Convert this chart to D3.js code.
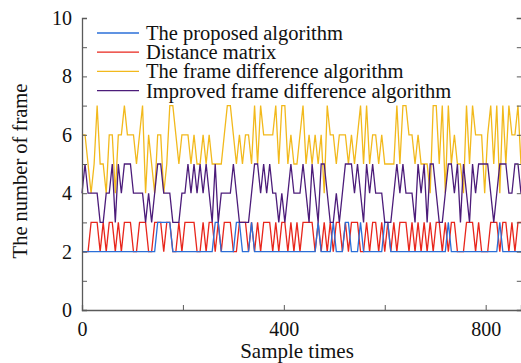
<!DOCTYPE html>
<html>
<head>
<meta charset="utf-8">
<script src="https://cdn.jsdelivr.net/npm/d3@7"></script>
<style>
  body { margin: 0; background: #fff; }
  svg { display: block; font-family: "Liberation Serif", "Times New Roman", serif; }
</style>
</head>
<body>
<div id="chart"></div>
<script>
// sample spacing along the x axis (sample times between points)
const sampleStep = 6;

const seriesNames = [
  'The proposed algorithm',
  'Distance matrix',
  'The frame difference algorithm',
  'Improved frame difference algorithm'
];
const seriesColors = ['#2b6fd8', '#e8261c', '#f2b91c', '#4c1c7a'];

const proposed = [
  2,2,2,2,2,2,2,2,2,2, 2,2,2,2,2,2,2,2,2,2, 2,2,2,2,2,3,3,3,3,3, 2,2,2,2,2,2,2,2,2,2,
  2,2,2,2,3,3,2,2,2,2, 2,3,3,2,2,2,3,2,2,2, 2,2,2,2,2,2,2,2,2,2, 2,2,2,2,2,2,2,2,3,2,
  2,2,2,3,2,2,2,3,3,2, 2,2,3,2,2,2,2,2,2,2, 3,3,2,2,2,2,2,2,2,2, 2,2,2,2,2,2,2,2,2,2,
  2,3,2,2,2,2,2,2,2,2, 2,2,2,2,2,2,2,2,3,2, 2,2,2,2,2,2
];

const distance = [
  2,2,2,3,3,3,2,3,2,3, 3,2,3,2,3,3,3,2,2,3, 3,3,2,2,3,3,3,2,3,3, 2,2,3,2,3,3,3,3,2,2,
  3,2,3,3,2,3,2,3,3,3, 2,2,3,3,3,2,3,2,3,2, 3,3,3,2,3,2,3,3,2,3, 2,3,2,3,3,3,3,2,3,2,
  3,2,3,2,3,3,2,3,2,3, 3,3,2,2,3,2,3,3,2,3, 2,3,2,3,2,3,3,3,2,3, 2,3,2,3,2,3,2,3,3,2,
  3,2,3,3,2,2,2,3,3,3, 2,3,2,2,2,3,3,3,2,3, 3,2,3,2,3,3
];

const frameDiff = [
  6,6,5,4,5,7,5,5,4,6,6,4,6,6,7,6,6,6,5,
  6,7,4,6,5,4,6,6,4,5,7,7,6,5,6,6,6,5,
  6,5,5,6,5,6,5,5,5,5,6,7,7,6,5,6,5,6,
  6,5,7,5,7,6,6,6,6,7,5,7,7,5,6,5,5,6,
  7,5,6,5,6,5,6,4,7,6,6,5,6,6,6,5,6,5,
  6,7,5,7,5,6,6,5,6,5,5,5,5,7,5,7,7,6,
  6,5,6,5,5,5,4,7,7,5,7,4,7,5,6,5,5,4,7,5,7,6,6,6,4,6,7,5,7,4,7,5,7,6,
  6,7,5
];

const improved = [
  4,5,4,4,4,4,3,3,4,4,5,3,5,4,5,5,5,4,4,
  4,4,3,4,3,4,5,5,4,4,4,3,3,3,4,4,5,4,
  5,4,5,4,5,4,3,5,3,4,4,4,4,5,4,3,3,3,
  3,4,5,5,4,5,4,5,4,4,3,4,3,4,5,4,4,4,
  5,4,3,5,4,3,5,5,4,3,3,4,3,4,5,5,5,4,
  5,4,3,5,4,5,4,4,4,3,3,3,4,5,4,5,4,4,
  4,3,5,4,5,3,5,5,4,3,3,4,5,5,4,5,3,5,4,3,5,4,5,5,5,5,4,3,4,5,5,5,4,4,
  5,5,4
];

const xTicks = [0, 400, 800];
const xMinor = [200, 600];
const yTicks = [0, 2, 4, 6, 8, 10];

const width = 521, height = 363;
const margin = { left: 82, right: 0, top: 18, bottom: 53 };

const svg = d3.select('#chart').append('svg')
  .attr('width', width)
  .attr('height', height);

const x = d3.scaleLinear().domain([0, 870]).range([margin.left, width - margin.right]);
const y = d3.scaleLinear().domain([0, 10]).range([height - margin.bottom, margin.top]);

const axisColor = '#5a5a5a';

// data lines (red under blue, purple on top of yellow)
const drawOrder = [1, 0, 2, 3];
const allSeries = [proposed, distance, frameDiff, improved];

const line = d3.line()
  .x((d, i) => x(i * sampleStep))
  .y(d => y(d));

const plot = svg.append('g');
drawOrder.forEach(k => {
  plot.append('path')
    .datum(allSeries[k])
    .attr('fill', 'none')
    .attr('stroke', seriesColors[k])
    .attr('stroke-width', 1.3)
    .attr('d', line);
});

// left axis, ticks pointing inward
const yAxis = d3.axisLeft(y).tickValues(d3.range(0, 11)).tickSize(-5)
  .tickFormat(d => yTicks.includes(d) ? d : '');
const gy = svg.append('g')
  .attr('transform', `translate(${margin.left},0)`)
  .call(yAxis);
gy.selectAll('text')
  .attr('x', -10)
  .attr('font-size', 20)
  .attr('font-family', '"Liberation Serif", serif')
  .attr('fill', '#111');

// right axis ticks only; its line falls just past the cropped edge
const gr = svg.append('g')
  .attr('transform', `translate(${width + 0.8},0)`)
  .call(d3.axisRight(y).tickValues(d3.range(0, 11)).tickSize(-5).tickFormat(''));

// bottom axis
const xAxis = d3.axisBottom(x).tickValues(xTicks.concat(xMinor)).tickSize(-5)
  .tickFormat(d => xTicks.includes(d) ? d : '');
const gx = svg.append('g')
  .attr('transform', `translate(0,${height - margin.bottom})`)
  .call(xAxis);
gx.selectAll('text')
  .attr('y', 12)
  .attr('font-size', 20)
  .attr('font-family', '"Liberation Serif", serif')
  .attr('fill', '#111');

[gy, gr, gx].forEach(g => {
  g.select('.domain').attr('stroke', axisColor).attr('stroke-width', 1.3);
  g.selectAll('.tick line').attr('stroke', axisColor);
});

// axis titles
svg.append('text')
  .attr('x', 297).attr('y', 358)
  .attr('text-anchor', 'middle')
  .attr('font-size', 21)
  .attr('fill', '#111')
  .text('Sample times');

svg.append('text')
  .attr('transform', 'translate(27,171) rotate(-90)')
  .attr('text-anchor', 'middle')
  .attr('font-size', 20.5)
  .attr('fill', '#111')
  .text('The number of frame');

// legend
const legend = svg.append('g');
seriesNames.forEach((name, i) => {
  const ly = 33 + i * 19.2;
  legend.append('line')
    .attr('x1', 97).attr('x2', 139)
    .attr('y1', ly).attr('y2', ly)
    .attr('stroke', seriesColors[i])
    .attr('stroke-width', 1.3);
  legend.append('text')
    .attr('x', 146).attr('y', ly + 7)
    .attr('font-size', 20.5)
    .attr('fill', '#111')
    .text(name);
});
</script>
</body>
</html>
